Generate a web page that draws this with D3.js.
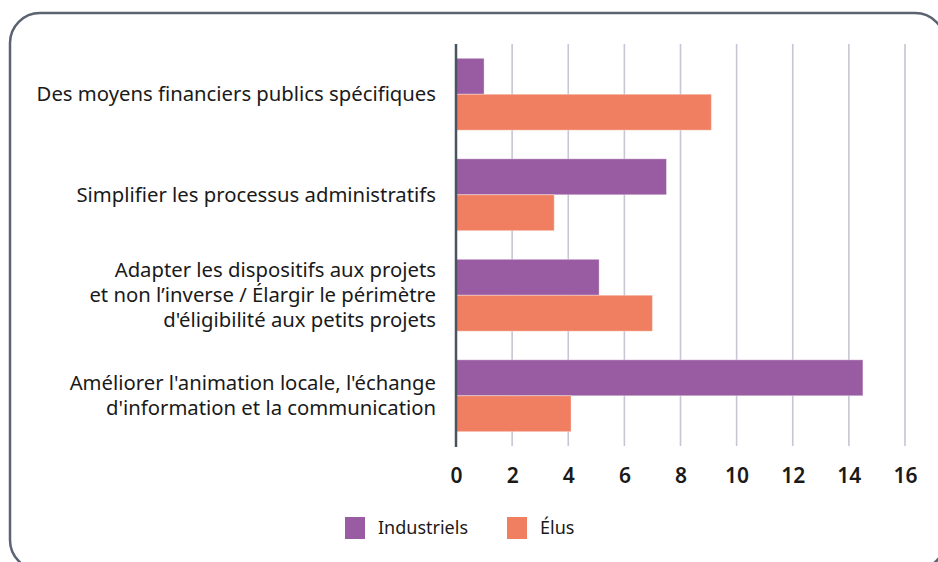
<!DOCTYPE html>
<meta charset="utf-8">
<style>
	body { margin: 0; background: #fff; }
	text { font-family: "Noto Sans", "Open Sans", sans-serif; fill: #1a1a1a; }
	.grid line { stroke: #c6c6d4; stroke-width: 1.6px; }
	.tick text { font-weight: 600; font-size: 21px; }
</style>
<svg id="chart" width="938" height="562"></svg>
<script src="https://d3js.org/d3.v7.min.js"></script>
<script>
	// données
	var categories = [
		["Des moyens financiers publics spécifiques"],
		["Simplifier les processus administratifs"],
		["Adapter les dispositifs aux projets", "et non l’inverse / Élargir le périmètre", "d'éligibilité aux petits projets"],
		["Améliorer l'animation locale, l'échange", "d'information et la communication"]
	];
	var series = ["Industriels", "Élus"];
	var industriels = [1, 7.5, 5.1, 14.5];
	var elus = [9.1, 3.5, 7, 4.1];
	var xTicks = [0, 2, 4, 6, 8, 10, 12, 14, 16];
	var colors = ["#995ba1", "#f07f62"];

	var svg = d3.select("#chart");

	// cadre arrondi
	svg.append("rect")
		.attr("x", 10).attr("y", 13)
		.attr("width", 935).attr("height", 557)
		.attr("rx", 30)
		.attr("fill", "none")
		.attr("stroke", "#5b6371")
		.attr("stroke-width", 2.5);

	var plotLeft = 456, plotRight = 905, plotTop = 44, plotBottom = 446;

	var x = d3.scaleLinear().domain([0, 16]).range([plotLeft, plotRight]);
	var y = d3.scaleBand().domain(d3.range(categories.length)).range([plotTop, plotBottom])
		.paddingInner(0.285).paddingOuter(0.1425);
	var ySub = d3.scaleBand().domain(series).range([0, y.bandwidth()]);

	// grille
	svg.append("g")
		.attr("class", "grid")
		.selectAll("line")
		.data(xTicks.slice(1))
		.enter().append("line")
		.attr("x1", function(d) { return x(d); })
		.attr("x2", function(d) { return x(d); })
		.attr("y1", plotTop)
		.attr("y2", plotBottom);

	var rows = series.map(function(s, i) {
		var vals = i === 0 ? industriels : elus;
		return vals.map(function(v, j) { return {serie: s, idx: i, cat: j, value: v}; });
	});
	var flat = [].concat.apply([], rows);

	svg.append("g")
		.selectAll("rect")
		.data(flat)
		.enter().append("rect")
		.attr("x", x(0))
		.attr("y", function(d) { return y(d.cat) + ySub(d.serie); })
		.attr("width", function(d) { return x(d.value) - x(0); })
		.attr("height", ySub.bandwidth())
		.attr("fill", function(d) { return colors[d.idx]; })
		.attr("stroke", "#ffffff")
		.attr("stroke-opacity", 0.35)
		.attr("stroke-width", 1);

	// axe vertical
	svg.append("line")
		.attr("x1", x(0)).attr("x2", x(0))
		.attr("y1", plotTop).attr("y2", plotBottom + 1)
		.attr("stroke", "#4a5360")
		.attr("stroke-width", 2.5);

	// axe x
	var xAxis = svg.append("g")
		.attr("transform", "translate(0," + plotBottom + ")")
		.call(d3.axisBottom(x).tickValues(xTicks).tickSize(0).tickPadding(22));
	xAxis.select(".domain").remove();
	xAxis.selectAll(".tick text").attr("fill", "#1a1a1a");

	// libellés des catégories
	var lineH = 25;
	svg.append("g")
		.selectAll("text")
		.data(categories)
		.enter().append("text")
		.attr("text-anchor", "end")
		.attr("font-size", 20.3)
		.each(function(lines, i) {
			var cy = y(i) + y.bandwidth() / 2;
			var y0 = cy - (lines.length - 1) * lineH / 2;
			d3.select(this).selectAll("tspan")
				.data(lines)
				.enter().append("tspan")
				.attr("x", 436)
				.attr("y", function(d, k) { return y0 + k * lineH; })
				.attr("dy", "0.35em")
				.text(function(d) { return d; });
		});

	// légende
	var legendX = [345, 507];
	var leg = svg.append("g")
		.selectAll("g")
		.data(series)
		.enter().append("g")
		.attr("transform", function(d, i) { return "translate(" + legendX[i] + ",517)"; });
	leg.append("rect")
		.attr("width", 20).attr("height", 22)
		.attr("fill", function(d, i) { return colors[i]; });
	leg.append("text")
		.attr("x", 33).attr("y", 11).attr("dy", "0.35em")
		.attr("font-size", 18)
		.text(function(d) { return d; });
</script>
